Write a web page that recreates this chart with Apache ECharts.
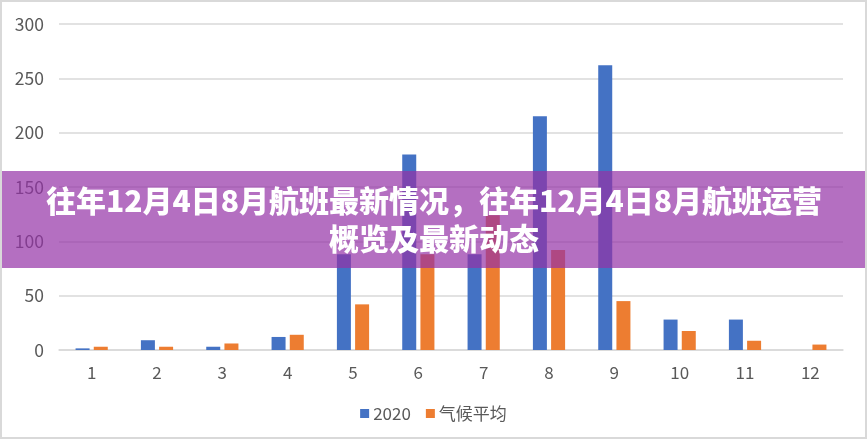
<!DOCTYPE html>
<html>
<head>
<meta charset="utf-8">
<script src="https://cdn.jsdelivr.net/npm/echarts@6/dist/echarts.min.js"></script>
<style>
html,body{margin:0;padding:0;background:#fff;}
#chart{width:867px;height:440px;}
</style>
</head>
<body>
<div id="chart"></div>
<script>
const categories = ['1','2','3','4','5','6','7','8','9','10','11','12'];
const series2020 = [1.5, 9, 3, 12, 88, 180, 88, 215, 262, 28, 28, 0];
const seriesClimate = [3, 3, 6, 14, 42, 88, 124, 92, 45, 17.5, 8.5, 5];
const seriesNames = ['2020', '气候平均'];
const yTicks = {min: 0, max: 300, interval: 50};
const titleLines = ['往年12月4日8月航班最新情况，往年12月4日8月航班运营', '概览及最新动态'];

const chart = echarts.init(document.getElementById('chart'), null, {renderer: 'canvas'});
const labelFont = '"Microsoft YaHei","Noto Sans CJK SC","Noto Sans",sans-serif';
chart.setOption({
  animation: false,
  backgroundColor: '#fff',
  grid: {left: 59, right: 24, top: 24, bottom: 90, containLabel: false},
  legend: {
    data: seriesNames,
    top: 400,
    left: 'center',
    itemWidth: 9, itemHeight: 9, itemGap: 15,
    icon: 'rect',
    textStyle: {color: '#595959', fontSize: 17, fontFamily: labelFont, padding: [0,0,0,-1]}
  },
  xAxis: {
    type: 'category',
    data: categories,
    axisLine: {lineStyle: {color: '#d9d9d9', width: 1.5}},
    axisTick: {show: false},
    axisLabel: {color: '#595959', fontSize: 17, margin: 14, fontFamily: labelFont}
  },
  yAxis: {
    type: 'value',
    min: yTicks.min, max: yTicks.max, interval: yTicks.interval,
    axisLine: {show: false},
    axisTick: {show: false},
    splitLine: {lineStyle: {color: '#d9d9d9', width: 1.5}},
    axisLabel: {color: '#595959', fontSize: 17.5, margin: 15, fontFamily: labelFont}
  },
  series: [
    {name: seriesNames[0], type: 'bar', data: series2020, barWidth: 14, barGap: '30%', itemStyle: {color: '#4472c4'}},
    {name: seriesNames[1], type: 'bar', data: seriesClimate, barWidth: 14, barGap: '30%', itemStyle: {color: '#ed7d31'}}
  ],
  graphic: [
    {type: 'rect', z: 100, shape: {x: 0, y: 171, width: 867, height: 97}, style: {fill: 'rgba(148,50,166,0.7)'}},
    {type: 'text', z: 101, x: 434, y: 201, style: {text: titleLines[0], fill: '#fff', font: '900 30px "Noto Sans CJK SC", sans-serif', textAlign: 'center', textVerticalAlign: 'middle'}},
    {type: 'text', z: 101, x: 434, y: 239, style: {text: titleLines[1], fill: '#fff', font: '900 30px "Noto Sans CJK SC", sans-serif', textAlign: 'center', textVerticalAlign: 'middle'}},
    {type: 'rect', z: 102, shape: {x: 1, y: 1, width: 865, height: 437}, style: {fill: 'none', stroke: '#d9d9d9', lineWidth: 2}}
  ]
});
</script>
</body>
</html>
